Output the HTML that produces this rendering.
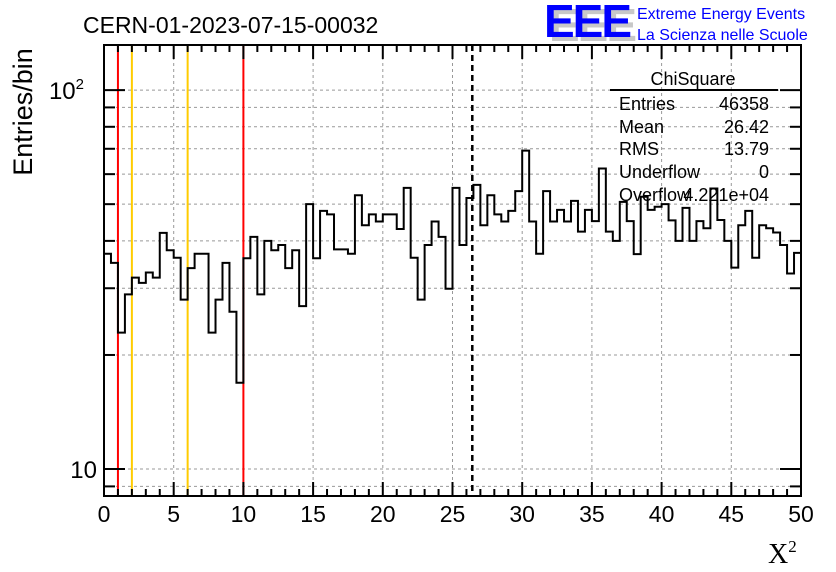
<!DOCTYPE html>
<html><head><meta charset="utf-8"><style>
body{margin:0;background:#fff;}
svg{display:block;font-family:"Liberation Sans",sans-serif;}
</style></head><body>
<svg id="chart" width="836" height="572" viewBox="0 0 836 572">
<g id="grid"></g>
<g id="marks"></g>
<path id="hist" fill="none" stroke="#000" stroke-width="2"/>
<rect x="104" y="45" width="697" height="451" fill="none" stroke="#000" stroke-width="2"/>
<g id="ticks"></g>
<text x="83" y="33" font-size="23">CERN-01-2023-07-15-00032</text>
<text transform="translate(32,112) rotate(-90)" text-anchor="middle" font-size="27">Entries/bin</text>
<text x="768" y="563" font-size="28" font-family="Liberation Serif,serif">X<tspan dy="-11" font-size="17">2</tspan></text>
<g>
<text x="549" y="41" font-size="46" font-weight="bold" fill="#c8c8c8" letter-spacing="-2">EEE</text>
<text x="544" y="37" font-size="46" font-weight="bold" fill="#0000ff" letter-spacing="-2">EEE</text>
<text x="637" y="19" font-size="16" fill="#0000ff">Extreme Energy Events</text>
<text x="637" y="40" font-size="16" fill="#0000ff">La Scienza nelle Scuole</text>
</g>
<g font-size="18">
<line x1="610" y1="90" x2="778" y2="90" stroke="#000" stroke-width="2"/>
<text x="693" y="85" text-anchor="middle">ChiSquare</text>
<text x="619" y="110">Entries</text><text x="769" y="110" text-anchor="end">46358</text>
<text x="619" y="133">Mean</text><text x="769" y="133" text-anchor="end">26.42</text>
<text x="619" y="155">RMS</text><text x="769" y="155" text-anchor="end">13.79</text>
<text x="619" y="178">Underflow</text><text x="769" y="178" text-anchor="end">0</text>
<text x="619" y="201">Overflow</text><text x="769" y="201" text-anchor="end">4.221e+04</text>
</g>
</svg>
<script>
const binLow = 0, binWidth = 0.5;
const counts = [37,35,22.9,28.9,32,31,33,32,42,37.8,36.1,28,33.9,37,37,22.9,28,35,26,16.9,
36,41,28.9,40,37.8,39,33.9,37.8,26.9,50,36,48,47,38,38,37,52.8,44,47,45,
47,47,43,55.2,36.1,28,39,45,41,29.9,55.2,39,51.9,56.2,44,52.8,47,45,48,54.1,
69.2,45,37,54.1,45,48.3,45,51,42.3,48.3,45.1,62.1,42.3,40,50.7,45.1,36.9,52.3,48.3,49.2,
50,45.3,40,48.9,40,45.1,43.2,55,45.4,40,34,44,48,36.1,44,43.2,42.1,39,32.8,37.2];
const xTicks = [0,5,10,15,20,25,30,35,40,45,50];
const yMajor = [10,100];
const yMinor = [9,20,30,40,50,60,70,80,90];
const redLines = [1,10];
const orangeLines = [2,6];
const meanValue = 26.42;

const X0=104,X1=801,Y0=496,Y1=45,xmin=0,xmax=50,ymin=Math.log10(8.49),ymax=Math.log10(131.5);
const NS="http://www.w3.org/2000/svg";
const xs=v=>X0+(v-xmin)/(xmax-xmin)*(X1-X0);
const ys=v=>Y0-(Math.log10(v)-ymin)/(ymax-ymin)*(Y0-Y1);
function mk(tag,attrs,parent){const e=document.createElementNS(NS,tag);for(const k in attrs)e.setAttribute(k,attrs[k]);parent.appendChild(e);return e;}
const grid=document.getElementById('grid'),ticks=document.getElementById('ticks'),marks=document.getElementById('marks');
xTicks.forEach(t=>{if(t>xmin&&t<xmax){const l=mk('line',{x1:xs(t),x2:xs(t),y1:Y1,y2:Y0,stroke:'#999','stroke-dasharray':'3,3'},grid);

}});
[...yMajor,...yMinor].forEach(v=>{const l=mk('line',{x1:X0,x2:X1,y1:ys(v),y2:ys(v),stroke:'#999','stroke-dasharray':'3,3'},grid);

});
for(let t=xmin;t<=xmax;t++){const major=t%5===0;const len=major?14:7;
mk('line',{x1:xs(t),x2:xs(t),y1:Y0,y2:Y0-len,stroke:'#000','stroke-width':2},ticks);
mk('line',{x1:xs(t),x2:xs(t),y1:Y1,y2:Y1+len,stroke:'#000','stroke-width':2},ticks);}
xTicks.forEach(t=>{const tx=mk('text',{x:xs(t),y:522,'text-anchor':'middle','font-size':23},ticks);tx.textContent=t;

});
yMajor.forEach(v=>{mk('line',{x1:X0,x2:X0+21,y1:ys(v),y2:ys(v),stroke:'#000','stroke-width':2},ticks);
mk('line',{x1:X1,x2:X1-21,y1:ys(v),y2:ys(v),stroke:'#000','stroke-width':2},ticks);
const tx=mk('text',{x:97,y:ys(v)+9,'text-anchor':'end','font-size':24},ticks);


if(v===10){tx.textContent='10';}else{tx.textContent='10';const ts=mk('tspan',{dy:-10,'font-size':15},tx);ts.textContent='2';tx.setAttribute('x',84);}});
yMinor.forEach(v=>{mk('line',{x1:X0,x2:X0+11,y1:ys(v),y2:ys(v),stroke:'#000','stroke-width':2},ticks);
mk('line',{x1:X1,x2:X1-11,y1:ys(v),y2:ys(v),stroke:'#000','stroke-width':2},ticks);});
redLines.forEach(v=>{const l=mk('line',{x1:xs(v),x2:xs(v),y1:Y1,y2:Y0,stroke:'#ff0000','stroke-width':2},marks);

});
orangeLines.forEach(v=>{const l=mk('line',{x1:xs(v),x2:xs(v),y1:Y1,y2:Y0,stroke:'#ffcc00','stroke-width':2},marks);

});
const ml=mk('line',{x1:xs(meanValue),x2:xs(meanValue),y1:Y1,y2:Y0,stroke:'#000','stroke-width':2.5,'stroke-dasharray':'6,4'},marks);


let d='';counts.forEach((c,i)=>{const xa=xs(binLow+i*binWidth),xb=xs(binLow+(i+1)*binWidth),y=ys(c);d+=(i===0?'M':'L')+xa+','+y+'L'+xb+','+y;});
document.getElementById('hist').setAttribute('d',d);
</script>
</body></html>
